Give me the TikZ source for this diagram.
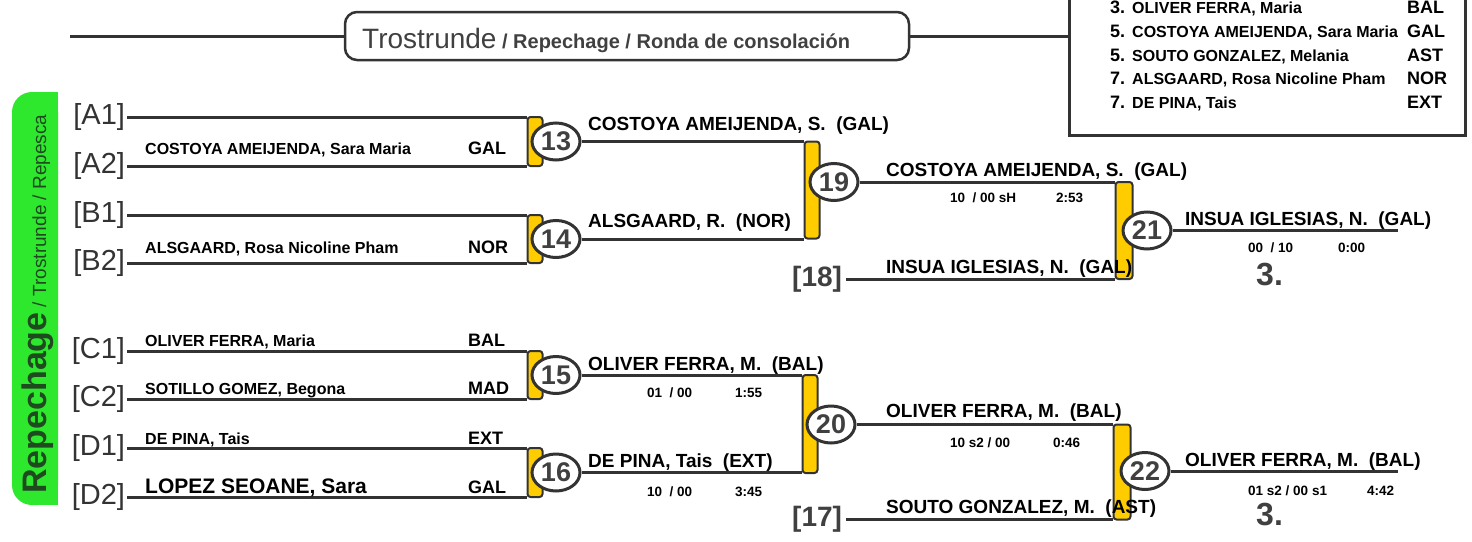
\documentclass[tikz,border=0pt]{standalone}
\usepackage{fontspec}
\setmainfont{Liberation Sans}
\definecolor{linecolor}{HTML}{333333}
\definecolor{greycolor}{HTML}{404040}
\definecolor{barcolor}{HTML}{FFCC00}
\definecolor{repgreen}{HTML}{2EE82E}
\definecolor{labelgreen}{HTML}{1F4A1F}
\usetikzlibrary{shapes.geometric}
\newcommand{\fsz}[1]{\fontsize{#1}{#1}\selectfont}
\tikzset{
	bline/.style={
		draw=linecolor,
		line width=3pt
	},
	bar/.style={
		rectangle,
		draw=linecolor,
		line width=2pt,
		fill=barcolor,
		rounded corners=3pt,
		minimum width=15pt,
		inner sep=0pt
	},
	match/.style={
		ellipse,
		draw=linecolor,
		line width=3pt,
		fill=white,
		minimum width=48pt,
		minimum height=37pt,
		inner sep=0pt,
		text=greycolor,
		font=\bfseries\fsz{27}
	},
	seed/.style={
		anchor=east,
		text=linecolor,
		font=\fsz{29},
		inner sep=0pt,
		outer sep=2pt
	},
	pool/.style={
		anchor=east,
		text=greycolor,
		font=\bfseries\fsz{28},
		inner sep=0pt,
		outer sep=4pt
	},
	player/.style={
		anchor=base west,
		inner sep=0pt,
		font=\bfseries\fsz{16}
	},
	land/.style={
		anchor=base west,
		inner sep=0pt,
		font=\bfseries\fsz{18}
	},
	winner/.style={
		anchor=base west,
		inner sep=0pt,
		font=\bfseries\fsz{19}
	},
	score/.style={
		anchor=base west,
		inner sep=0pt,
		font=\bfseries\fsz{13.5}
	},
	rank/.style={
		anchor=base west,
		inner sep=0pt,
		text=greycolor,
		font=\bfseries\fsz{32}
	},
}

\begin{document}
\begin{tikzpicture}[x=1pt,y=-1pt]
	\useasboundingbox (0,0) rectangle (1472,541);

	% header and results
	\node[draw=linecolor, line width=2.5pt, rounded corners=12pt, minimum width=564pt, minimum height=48pt] (hdr) at (627,36) {};
	\node[anchor=base west, inner sep=0pt, text=greycolor] (hdrtxt) at (362,48) {\fsz{28}Trostrunde\fsz{20}\bfseries{} / Repechage / Ronda de consolación};
	\node[draw=linecolor, line width=3pt, minimum width=396pt, minimum height=160pt, inner sep=0pt] (res) at (1267,55) {};
	\coordinate (hstart) at (70,36);
	\draw[bline] (hstart) -- (hdr.west);
	\draw[bline] (hdr.east) -- (hdr.east -| res.west);
	\foreach \ry/\rk/\rn/\rc in {13/3./{OLIVER FERRA, Maria}/BAL, 37/5./{COSTOYA AMEIJENDA, Sara Maria}/GAL, 61/5./{SOUTO GONZALEZ, Melania}/AST, 84/7./{ALSGAARD, Rosa Nicoline Pham}/NOR, 108/7./{DE PINA, Tais}/EXT}{
		\node[land] (rk\ry) at (1110,\ry) {\rk};
		\node[player] (rn\ry) at (1132,\ry) {\rn};
		\node[land] (rc\ry) at (1407,\ry) {\rc};
	}

	% side label
	\fill[repgreen, rounded corners=20pt] (12,92) rectangle (58,505);
	\fill[repgreen] (36,92) rectangle (58,505);
	\node[rotate=90, anchor=base west, inner sep=0pt, text=labelgreen] (side) at (46,494) {\bfseries\fsz{34}Repechage\mdseries\fsz{19} / Trostrunde / Repesca};

	% bars
	\node[bar, minimum height=49pt] (b13) at (535,141.5) {};
	\node[bar, minimum height=48pt] (b14) at (535,239) {};
	\node[bar, minimum height=48pt] (b15) at (535,375) {};
	\node[bar, minimum height=49pt] (b16) at (535,472.5) {};
	\node[bar, minimum height=97pt] (b19) at (812,190) {};
	\node[bar, minimum height=98pt] (b20) at (810,424) {};
	\node[bar, minimum height=97pt, minimum width=17pt] (b21) at (1124,230.5) {};
	\node[bar, minimum height=95pt, minimum width=17pt] (b22) at (1122,472) {};

	% matches
	\node[match] (m13) at (556,141.5) {13};
	\node[match] (m14) at (556,239) {14};
	\node[match] (m15) at (556,375) {15};
	\node[match] (m16) at (556,472.5) {16};
	\node[match] (m19) at (834,182) {19};
	\node[match] (m20) at (831,424.5) {20};
	\node[match] (m21) at (1147,230.5) {21};
	\node[match] (m22) at (1145,471) {22};
	\coordinate (e21) at (1398,230.5);
	\coordinate (e22) at (1398,471);

	% seeds
	\node[seed] (a1) at (127,117) {[A1]};
	\node[seed] (a2) at (127,166) {[A2]};
	\node[seed] (b1) at (127,215) {[B1]};
	\node[seed] (b2) at (127,263) {[B2]};
	\node[seed] (c1) at (127,351) {[C1]};
	\node[seed] (c2) at (127,399) {[C2]};
	\node[seed] (d1) at (127,448) {[D1]};
	\node[seed] (d2) at (127,497) {[D2]};
	\node[pool] (s18) at (846,279) {[18]};
	\node[pool] (s17) at (846,519.5) {[17]};

	\draw[bline] (a1.east) -- (a1.east -| b13.west);
	\draw[bline] (a2.east) -- (a2.east -| b13.west);
	\draw[bline] (b1.east) -- (b1.east -| b14.west);
	\draw[bline] (b2.east) -- (b2.east -| b14.west);
	\draw[bline] (c1.east) -- (c1.east -| b15.west);
	\draw[bline] (c2.east) -- (c2.east -| b15.west);
	\draw[bline] (d1.east) -- (d1.east -| b16.west);
	\draw[bline] (d2.east) -- (d2.east -| b16.west);
	\draw[bline] (m13.east) -- (m13.east -| b19.west);
	\draw[bline] (m14.east) -- (m14.east -| b19.west);
	\draw[bline] (m15.east) -- (m15.east -| b20.west);
	\draw[bline] (m16.east) -- (m16.east -| b20.west);
	\draw[bline] (m19.east) -- (m19.east -| b21.west);
	\draw[bline] (s18.east) -- (s18.east -| b21.west);
	\draw[bline] (m20.east) -- (m20.east -| b22.west);
	\draw[bline] (s17.east) -- (s17.east -| b22.west);
	\draw[bline] (m21.east) -- (e21);
	\draw[bline] (m22.east) -- (e22);

	% first round
	\node[player] (na2) at (145,154) {COSTOYA AMEIJENDA, Sara Maria};
	\node[land] (ca2) at (468,154) {GAL};
	\node[player] (nb2) at (145,253) {ALSGAARD, Rosa Nicoline Pham};
	\node[land] (cb2) at (468,253) {NOR};
	\node[player] (nc1) at (145,346) {OLIVER FERRA, Maria};
	\node[land] (cc1) at (468,346) {BAL};
	\node[player] (nc2) at (145,394) {SOTILLO GOMEZ, Begona};
	\node[land] (cc2) at (468,394) {MAD};
	\node[player] (nd1) at (145,444) {DE PINA, Tais};
	\node[land] (cd1) at (468,444) {EXT};
	\node[player, font=\bfseries\fsz{21}] (nd2) at (145,493) {LOPEZ SEOANE, Sara};
	\node[land] (cd2) at (468,493) {GAL};

	% second round
	\node[winner] (w13) at (588,130) {COSTOYA AMEIJENDA, S.\ \ (GAL)};
	\node[winner] (w14) at (588,227) {ALSGAARD, R.\ \ (NOR)};
	\node[winner] (w15) at (588,370) {OLIVER FERRA, M.\ \ (BAL)};
	\node[score] (s15a) at (647,397) {01\ \ / 00};
	\node[score] (s15b) at (735,397) {1:55};
	\node[winner] (w16) at (588,467) {DE PINA, Tais\ \ (EXT)};
	\node[score] (s16a) at (647,496) {10\ \ / 00};
	\node[score] (s16b) at (735,496) {3:45};

	% third round
	\node[winner] (w19) at (886,176) {COSTOYA AMEIJENDA, S.\ \ (GAL)};
	\node[score] (s19a) at (950,202) {10\ \ / 00 sH};
	\node[score] (s19b) at (1056,202) {2:53};
	\node[winner] (w18) at (886,273) {INSUA IGLESIAS, N.\ \ (GAL)};
	\node[winner] (w20) at (886,417) {OLIVER FERRA, M.\ \ (BAL)};
	\node[score] (s20a) at (950,447) {10 s2 / 00};
	\node[score] (s20b) at (1053,447) {0:46};
	\node[winner] (w17) at (886,513) {SOUTO GONZALEZ, M.\ \ (AST)};

	% bronze
	\node[winner] (w21) at (1185,225) {INSUA IGLESIAS, N.\ \ (GAL)};
	\node[score] (s21a) at (1248,252) {00\ \ / 10};
	\node[score] (s21b) at (1338,252) {0:00};
	\node[rank] (r21) at (1256,285) {3.};
	\node[winner] (w22) at (1185,466) {OLIVER FERRA, M.\ \ (BAL)};
	\node[score] (s22a) at (1248,495) {01 s2 / 00 s1};
	\node[score] (s22b) at (1367,495) {4:42};
	\node[rank] (r22) at (1256,525) {3.};
\end{tikzpicture}
\end{document}
